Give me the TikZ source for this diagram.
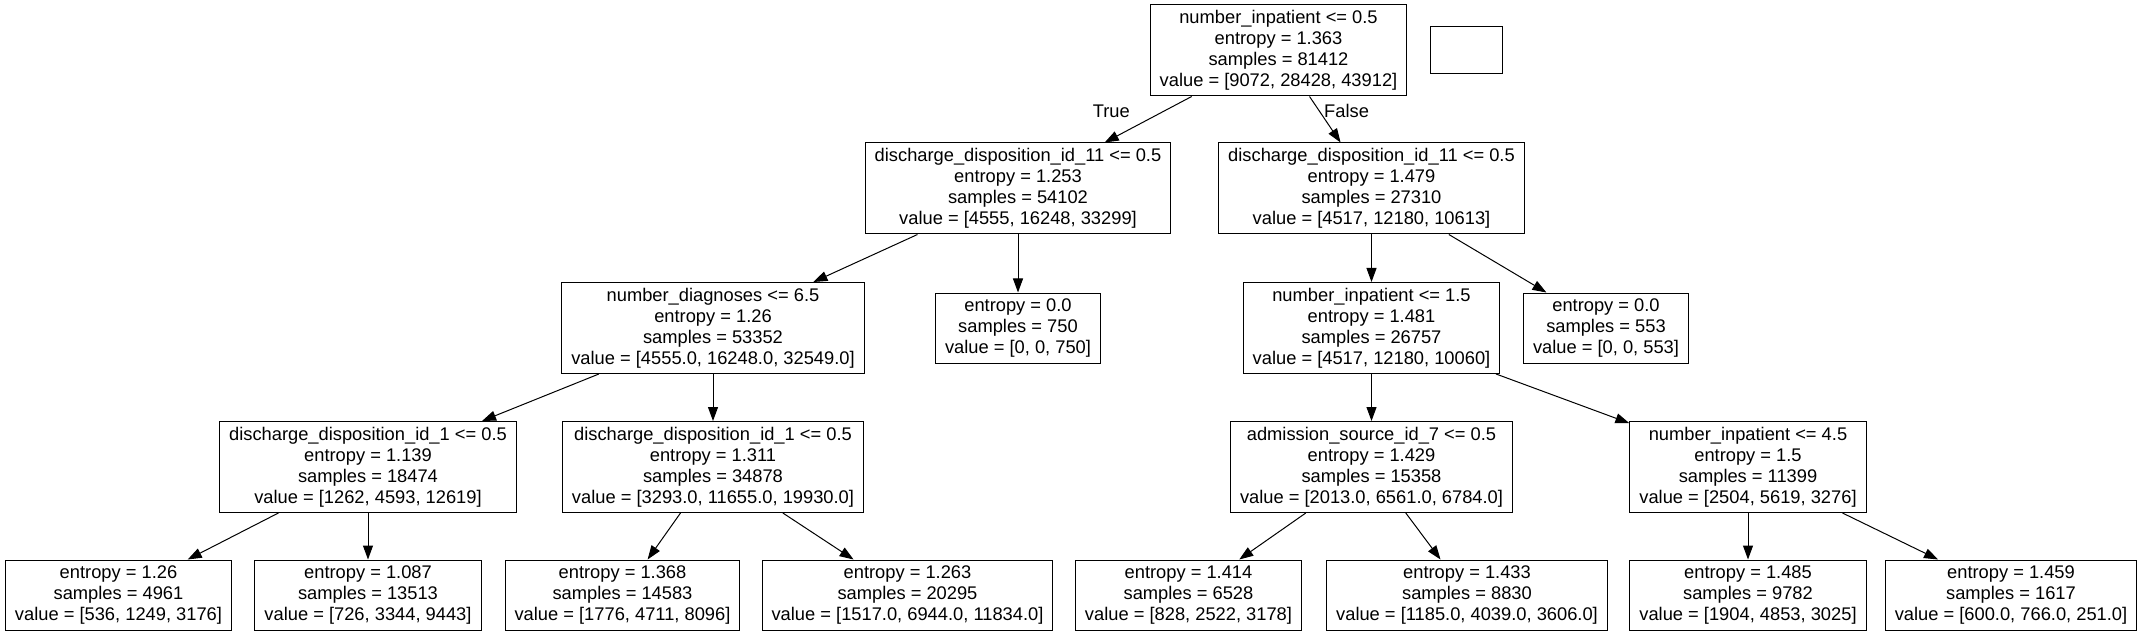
\documentclass[tikz,border=0pt]{standalone}
\usepackage{fontspec}
\setmainfont{Liberation Sans}
\usetikzlibrary{arrows.meta}
\begin{document}
\begin{tikzpicture}[x=1pt,y=-1pt,
  treebox/.style={draw=black,line width=1pt,rectangle,align=center,inner xsep=9.5pt,inner ysep=0pt,
    font=\fontsize{18.3}{21}\selectfont},
  inner4/.style={treebox,minimum height=91pt},
  leaf3/.style={treebox,minimum height=70pt},
  edge/.style={draw=black,line width=1pt,-{Triangle[length=14pt,width=10pt]}},
  lbl/.style={font=\fontsize{18.3}{21}\selectfont,inner sep=0pt}]
\useasboundingbox (0,0) rectangle (2146,636);
\fill[white] (0,0) rectangle (2146,636);

\node[inner4] (root) at (1278.5,50.5) {number\_inpatient <= 0.5\\entropy = 1.363\\samples = 81412\\value = [9072, 28428, 43912]};
\node[draw=black,line width=1pt,minimum width=72pt,minimum height=47pt,inner sep=0pt] (empty) at (1466,50.5) {};

\node[inner4] (l1a) at (1018,188.5) {discharge\_disposition\_id\_11 <= 0.5\\entropy = 1.253\\samples = 54102\\value = [4555, 16248, 33299]};
\node[inner4] (l1b) at (1371.5,188.5) {discharge\_disposition\_id\_11 <= 0.5\\entropy = 1.479\\samples = 27310\\value = [4517, 12180, 10613]};

\node[inner4] (a) at (713,328) {number\_diagnoses <= 6.5\\entropy = 1.26\\samples = 53352\\value = [4555.0, 16248.0, 32549.0]};
\node[leaf3] (b) at (1018,328) {entropy = 0.0\\samples = 750\\value = [0, 0, 750]};
\node[inner4] (c) at (1371.5,328) {number\_inpatient <= 1.5\\entropy = 1.481\\samples = 26757\\value = [4517, 12180, 10060]};
\node[leaf3] (d) at (1606,328) {entropy = 0.0\\samples = 553\\value = [0, 0, 553]};

\node[inner4] (e) at (368,467) {discharge\_disposition\_id\_1 <= 0.5\\entropy = 1.139\\samples = 18474\\value = [1262, 4593, 12619]};
\node[inner4] (f) at (713,467) {discharge\_disposition\_id\_1 <= 0.5\\entropy = 1.311\\samples = 34878\\value = [3293.0, 11655.0, 19930.0]};
\node[inner4] (g) at (1371.5,467) {admission\_source\_id\_7 <= 0.5\\entropy = 1.429\\samples = 15358\\value = [2013.0, 6561.0, 6784.0]};
\node[inner4] (h) at (1748,467) {number\_inpatient <= 4.5\\entropy = 1.5\\samples = 11399\\value = [2504, 5619, 3276]};

\node[leaf3] (k1) at (118.5,595) {entropy = 1.26\\samples = 4961\\value = [536, 1249, 3176]};
\node[leaf3] (k2) at (368,595) {entropy = 1.087\\samples = 13513\\value = [726, 3344, 9443]};
\node[leaf3] (k3) at (622.5,595) {entropy = 1.368\\samples = 14583\\value = [1776, 4711, 8096]};
\node[leaf3] (k4) at (907.5,595) {entropy = 1.263\\samples = 20295\\value = [1517.0, 6944.0, 11834.0]};
\node[leaf3] (k5) at (1188.5,595) {entropy = 1.414\\samples = 6528\\value = [828, 2522, 3178]};
\node[leaf3] (k6) at (1467,595) {entropy = 1.433\\samples = 8830\\value = [1185.0, 4039.0, 3606.0]};
\node[leaf3] (k7) at (1748,595) {entropy = 1.485\\samples = 9782\\value = [1904, 4853, 3025]};
\node[leaf3] (k8) at (2011,595) {entropy = 1.459\\samples = 1617\\value = [600.0, 766.0, 251.0]};

\draw[edge] (root) -- (l1a);
\draw[edge] (root) -- (l1b);
\draw[edge] (l1a) -- (a);
\draw[edge] (l1a) -- (b);
\draw[edge] (l1b) -- (c);
\draw[edge] (l1b) -- (d);
\draw[edge] (a) -- (e);
\draw[edge] (a) -- (f);
\draw[edge] (c) -- (g);
\draw[edge] (c) -- (h);
\draw[edge] (e) -- (k1);
\draw[edge] (e) -- (k2);
\draw[edge] (f) -- (k3);
\draw[edge] (f) -- (k4);
\draw[edge] (g) -- (k5);
\draw[edge] (g) -- (k6);
\draw[edge] (h) -- (k7);
\draw[edge] (h) -- (k8);

\node[lbl,anchor=base east] (truelbl) at (1130,118) {True};
\node[lbl,anchor=base west] (falselbl) at (1324,118) {False};
\end{tikzpicture}
\end{document}
